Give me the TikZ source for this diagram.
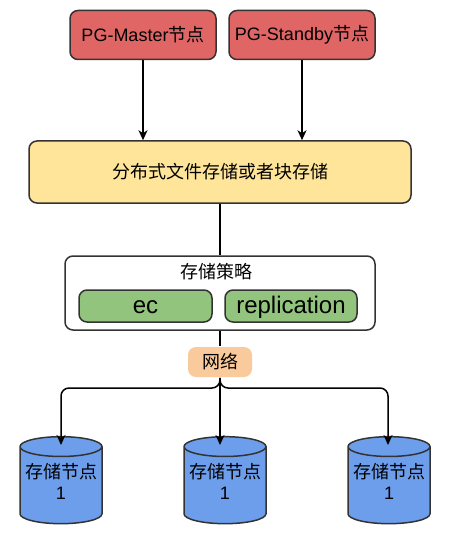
\documentclass[tikz,border=0pt]{standalone}
\usepackage{fontspec}
\setmainfont{Liberation Sans}
\newfontfamily\cjk{Noto Sans CJK SC}
\usetikzlibrary{shapes.geometric,arrows.meta}
\definecolor{redfill}{HTML}{E06666}
\definecolor{yellowfill}{HTML}{FFE599}
\definecolor{greenfill}{HTML}{93C47D}
\definecolor{bluefill}{HTML}{6D9EEB}
\definecolor{orangefill}{HTML}{F9CB9C}
\definecolor{edgegray}{HTML}{333333}
\tikzset{
	box/.style={draw=edgegray,line width=1.5pt,rounded corners=8pt,align=center,inner sep=0pt,font=\fontsize{18}{21}\selectfont},
	disk/.style={cylinder,shape border rotate=90,aspect=0.33,draw=edgegray,line width=1.5pt,cylinder uses custom fill,
		cylinder body fill=bluefill,cylinder end fill=bluefill,minimum width=82pt,minimum height=87pt,inner sep=0pt},
	disktext/.style={align=center,inner sep=0pt,font=\fontsize{18}{21}\selectfont},
	link/.style={line width=1.5pt,black}
}
\begin{document}
\begin{tikzpicture}[x=1pt,y=-1pt,>={Stealth[length=10pt,width=9pt,inset=3pt]}]
	\useasboundingbox (0,0) rectangle (465,540);
	
	% Top nodes
	\node[box,fill=redfill,minimum width=146pt,minimum height=49pt] (M) at (143,35) {PG-Master{\cjk 节点}};
	\node[box,fill=redfill,minimum width=146pt,minimum height=49pt] (S) at (302,35) {PG-Standby{\cjk 节点}};
	
	% Storage
	\node[box,fill=yellowfill,minimum width=382pt,minimum height=62pt] (F) at (220,172) {\cjk 分布式文件存储或者块存储};
	
	% Strategy
	\node[box,fill=white,minimum width=310pt,minimum height=74pt] (P) at (220,293) {};
	\node[font=\fontsize{18}{21}\selectfont\cjk,inner sep=0pt] (T) at (216,272) {存储策略};
	\node[box,fill=greenfill,minimum width=133pt,minimum height=32pt,text height=19pt,text depth=5pt,font=\fontsize{24}{28}\selectfont] (E) at (145.5,306) {ec};
	\node[box,fill=greenfill,minimum width=132pt,minimum height=32pt,text height=19pt,text depth=5pt,font=\fontsize{24}{28}\selectfont] (R) at (291,306) {replication};
	
	% Network
	\node[box,draw=none,fill=orangefill,minimum width=64pt,minimum height=30pt] (N) at (220,362) {\cjk 网络};
	
	% Disks
	\foreach \x/\g in {A/61,B/225,C/389}{
		\node[disk] (\x) at (\g,485.5) {\phantom{\rule{60pt}{30pt}}};
		\node[disktext] (\x T) at (\g,481) {{\cjk 存储节点}\\1};
	}
	
	% Points
	\coordinate (J) at (220,388);
	\coordinate (TA) at (61,445);
	\coordinate (TB) at (220,445);
	\coordinate (TC) at (388,445);
	
	% Arrows
	\draw[link,->] (M.south) -- (M.south |- F.north);
	\draw[link,->] (S.south) -- (S.south |- F.north);
	\draw[link] (F.south) -- (P.north);
	\draw[link] (P.south) -- (N.north);
	\draw[link,->] (N.south) -- (TB);
	\draw[link,->,rounded corners=8pt] (N.south) -- (J) -- (J -| TA) -- (TA);
	\draw[link,->,rounded corners=8pt] (N.south) -- (J) -- (J -| TC) -- (TC);
\end{tikzpicture}
\end{document}
